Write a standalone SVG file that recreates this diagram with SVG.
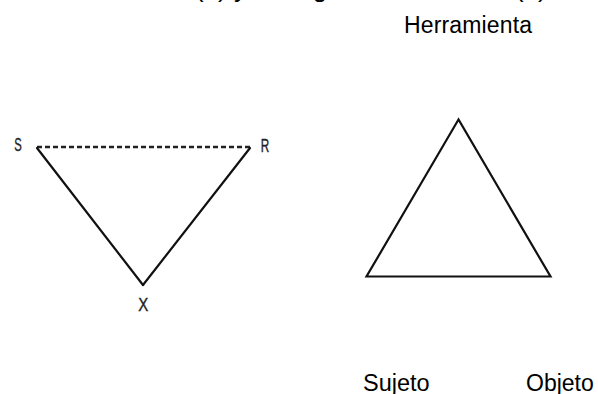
<svg xmlns="http://www.w3.org/2000/svg" width="598" height="394" viewBox="0 0 598 394">
<style>
.t{font-family:"Liberation Sans",Arial,sans-serif;fill:#000}
.lbl{font-family:"Liberation Sans",Arial,sans-serif;font-size:19px;fill:#222;stroke:#222;stroke-width:0.4;text-anchor:middle}
.edge{stroke:#111;stroke-width:2.2;fill:none;stroke-linecap:round}
.dash{stroke:#222;stroke-width:2.5;stroke-dasharray:5 3;fill:none}
</style>
<rect width="598" height="394" fill="#fff"/>
<g id="title">
<text class="t" font-size="26" y="-3"><tspan x="188" text-anchor="end">Triángulo de mediación</tspan><tspan x="195">(a) y</tspan><tspan x="508" text-anchor="end">triángulo de actividad</tspan><tspan x="515">(b)</tspan></text>
</g>
<g id="connectors">
<line class="dash" x1="37" y1="147" x2="251" y2="147"/>
<line class="edge" x1="37" y1="148" x2="143" y2="285"/>
<line class="edge" x1="250" y1="148" x2="143" y2="285"/>
<polygon class="edge" points="458.5,119.5 366.5,276.5 550.5,276.5" stroke-linejoin="miter"/>
</g>
<g id="node-S"><text class="lbl" x="18" y="151" textLength="7.5" lengthAdjust="spacingAndGlyphs">S</text></g>
<g id="node-R"><text class="lbl" x="265" y="152" textLength="8.5" lengthAdjust="spacingAndGlyphs">R</text></g>
<g id="node-X"><text class="lbl" x="143.3" y="311" textLength="10" lengthAdjust="spacingAndGlyphs">X</text></g>
<g id="node-herramienta"><text class="t" font-size="23" x="404" y="32.7" textLength="128">Herramienta</text></g>
<g id="node-sujeto"><text class="t" font-size="23.5" x="363" y="390.7">Sujeto</text></g>
<g id="node-objeto"><text class="t" font-size="23" x="526" y="390.7">Objeto</text></g>
</svg>
